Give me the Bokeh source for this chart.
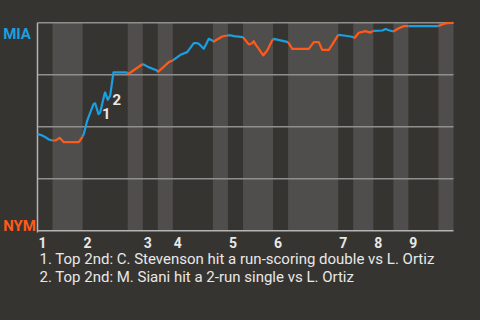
from bokeh.plotting import figure
from bokeh.models import Range1d
from bokeh.core.properties import value
from bokeh.embed import file_html
from bokeh.resources import INLINE

# ---- data ----
play = [0, 0.94, 1.6, 2.25, 3,
        3.6, 4.43, 5.25, 8.24, 9,
        9.24, 9.92, 11.17, 11.5, 12.17, 12.5, 13.37, 13.5, 14.03, 14.5, 15.16, 17.56, 18,
        18.2, 21,
        22.15, 23.88, 24,
        26.2, 27,
        28.53, 29.87, 31.19, 31.86, 32.18, 33.18, 34.18, 34.86, 35,
        35.18, 36.85, 37.85, 38,
        38.5, 39.2, 41,
        42.16, 42.84, 43.15, 43.5, 44.16, 45.03, 45.83, 46.83, 47,
        47.15, 49.14, 50,
        50.82, 54.13, 55.13, 56.13, 56.8, 58.12, 59.12, 60,
        61.12, 62.45, 63,
        63.3, 64.1, 65.43, 66.43, 67,
        68.8, 69.46, 70.1, 71,
        72.08, 73.08, 74,
        80,
        80.74, 81.4, 82.4, 83]
mia_wp = [46.6, 45.8, 45.0, 43.9, 43.4,
          43.4, 44.7, 42.6, 42.6, 45.3,
          46.6, 53.0, 60.9, 61.3, 56.1, 56.9, 65.7, 66.5, 63.0, 64.9, 76.2, 76.2, 75.9,
          75.5, 80.2,
          78.7, 77.1, 76.2,
          81.1, 81.9,
          84.6, 85.9, 90.2, 90.2, 89.9, 87.5, 92.3, 91.5, 91.3,
          91.0, 93.4, 93.9, 94.0,
          94.0, 93.6, 93.1,
          89.6, 90.2, 91.2, 89.6, 87.5, 84.3, 86.7, 91.5, 92.0,
          92.3, 91.2, 90.7,
          87.5, 87.5, 90.7, 90.7, 87.0, 87.0, 90.7, 94.2,
          93.9, 93.4, 93.1,
          92.8, 95.2, 96.0, 95.3, 96.1,
          96.3, 97.0, 96.4, 95.8,
          97.4, 98.4, 98.4,
          98.4,
          99.2, 99.7, 99.9, 100]
assert len(play) == len(mia_wp)

half_starts = [0, 3, 9, 18, 21, 24, 27, 35, 38, 41, 47, 50, 60, 63, 67, 71, 74, 80, 83]
innings = ["1", "2", "3", "4", "5", "6", "7", "8", "9"]
teams = ["MIA", "NYM"]
notes = ["1. Top 2nd: C. Stevenson hit a run-scoring double vs L. Ortiz",
         "2. Top 2nd: M. Siani hit a 2-run single vs L. Ortiz"]
note_marks = ["1", "2"]
note_mark_x = [13.73, 15.8]
note_mark_y = [56.3, 63.0]
grid_levels = [25, 50, 75, 100]

# ---- style ----
BG = "#363431"
BAND = "#504e4c"
BLUE = "#1a9fe0"
ORANGE = "#ff5a1a"
TXT = "#e8e8e8"
GRID = "#8f8f8f"
AXIS = "#b4b4b4"
FONT = value("Roboto")

X0, X1 = 0, 83
p = figure(width=480, height=320, output_backend="svg", toolbar_location=None,
           x_range=Range1d(-7.38, 88.39), y_range=Range1d(-43.13, 110.72),
           min_border_left=0, min_border_right=0, min_border_top=0, min_border_bottom=0)
p.background_fill_color = BG
p.border_fill_color = BG
p.outline_line_color = None
p.xaxis.visible = False
p.yaxis.visible = False
p.xgrid.visible = False
p.ygrid.visible = False

# bottom-half innings bands
lefts = half_starts[1:-1:2]
rights = half_starts[2::2]
p.quad(left=lefts, right=rights, bottom=0, top=100, fill_color=BAND, line_color=None)

# grid and frame lines
p.segment(x0=[X0] * len(grid_levels), x1=[X1] * len(grid_levels),
          y0=grid_levels, y1=grid_levels, line_color=GRID, line_width=1.5)
p.segment(x0=[X0], x1=[X1], y0=[0], y1=[0], line_color=AXIS, line_width=1.5)
p.segment(x0=[X0], x1=[X0], y0=[-0.8], y1=[100], line_color=AXIS, line_width=1.5)

# win-probability line, coloured by half inning
xs, ys, cols = [], [], []
for i in range(len(half_starts) - 1):
    a, b = half_starts[i], half_starts[i + 1]
    sx = [x for x in play if a <= x <= b]
    sy = [y for x, y in zip(play, mia_wp) if a <= x <= b]
    xs.append(sx)
    ys.append(sy)
    cols.append(BLUE if i % 2 == 0 else ORANGE)
p.multi_line(xs=xs, ys=ys, line_color=cols, line_width=2.2, line_join="round")

# event markers
p.text(x=note_mark_x, y=note_mark_y, text=note_marks, text_color=TXT, text_font=FONT,
       text_font_style="bold", text_font_size="15px",
       text_align="center", text_baseline="alphabetic")

# team labels
p.text(x=[-6.85, -6.85], y=[94.7, 2.5], text=teams, text_color=[BLUE, ORANGE],
       text_font=FONT, text_font_style="bold", text_font_size="15px",
       text_baseline="alphabetic")

# inning labels
p.text(x=half_starts[0::2][:len(innings)], y=[-5.4] * len(innings), x_offset=5,
       text=innings, text_color=TXT, text_font=FONT, text_font_style="bold",
       text_font_size="14px", text_align="center", text_baseline="alphabetic")

# notes
p.text(x=[0.4] * len(notes), y=[-13.6 - 8.4 * k for k in range(len(notes))], text=notes,
       text_color=TXT, text_font=FONT, text_font_size="15px", text_baseline="alphabetic")

html = file_html(p, INLINE)
css = "<style>html,body{margin:0;padding:0;background:#363431;overflow:hidden;}</style>"
html = html.replace("</head>", css + "</head>", 1)
open("out.html", "w").write(html)
